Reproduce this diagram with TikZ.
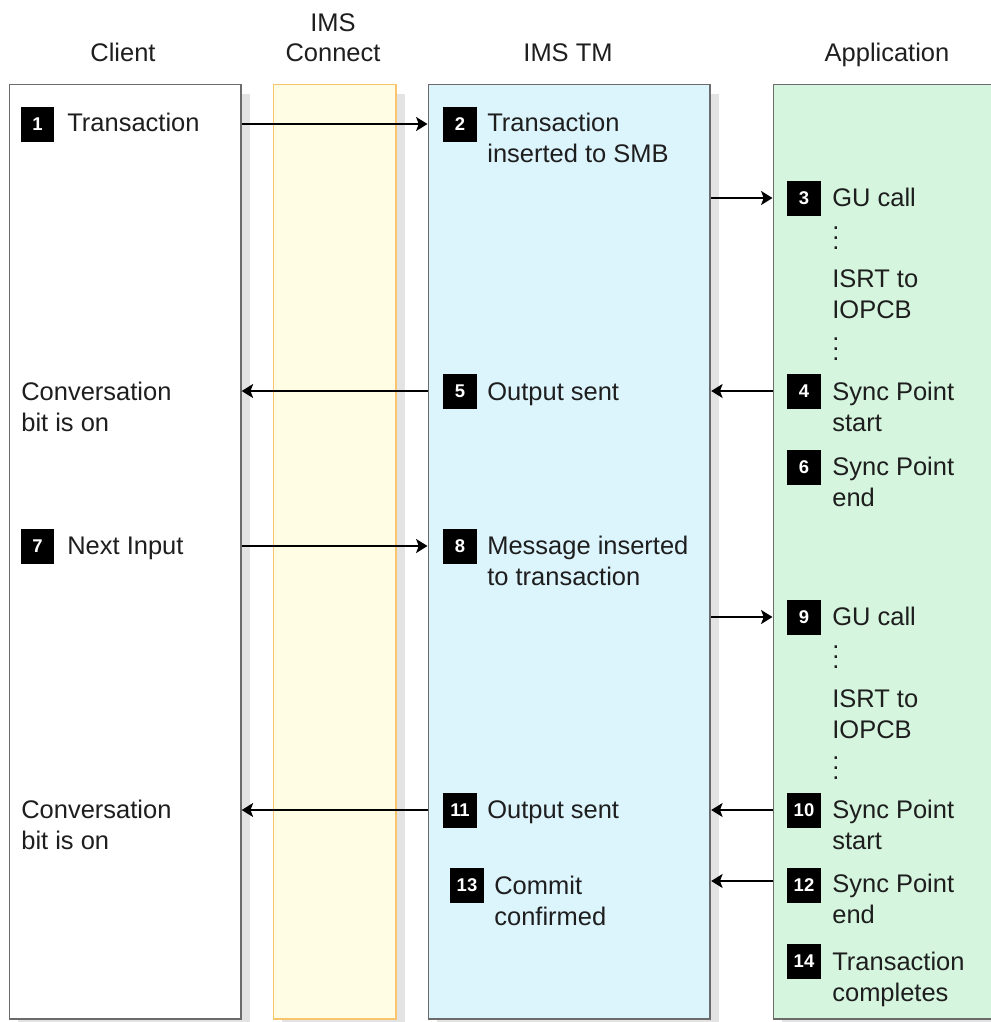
\documentclass[tikz,border=0pt]{standalone}
\usepackage{fontspec}
\setmainfont{Liberation Sans}
\usepackage{tikz}
\usetikzlibrary{arrows.meta,positioning,shadows}
\definecolor{IMSBorder}{HTML}{6B6B6B}
\definecolor{IMSText}{HTML}{1E1E1E}
\definecolor{IMSConnectFill}{HTML}{FFFDE4}
\definecolor{IMSConnectBorder}{HTML}{F8C46E}
\definecolor{IMSTMFill}{HTML}{DCF4FC}
\definecolor{IMSAppFill}{HTML}{D5F5DE}
\definecolor{IMSShadow}{HTML}{E3E3E3}
\tikzset{
    % Column box
    colbox/.style={
        draw=IMSBorder,
        fill=white,
        line width=1pt,
        anchor=north west,
        inner sep=0pt,
        minimum height=18.69cm,
        drop shadow={shadow xshift=0.18cm, shadow yshift=-0.2cm, fill=IMSShadow, opacity=1}
    },
    % Column title
    titlenode/.style={
        anchor=base,
        align=center,
        inner sep=0pt,
        text=IMSText,
        font=\fontsize{14.5}{17}\selectfont
    },
    % Step text (placed at the baseline of its last line)
    steptext/.style={
        anchor=base west,
        align=left,
        inner sep=0pt,
        text=IMSText,
        font=\fontsize{14.5}{17.5}\selectfont
    },
    % Step number badge
    badge/.style={
        fill=black,
        text=white,
        inner sep=0pt,
        minimum width=0.68cm,
        minimum height=0.7cm,
        font=\fontsize{10.5}{10.5}\selectfont\bfseries
    },
    % Vertical dots
    dotsnode/.style={
        align=center,
        inner sep=0pt,
        text=IMSText,
        font=\fontsize{14.5}{5.7}\selectfont
    },
    % Message arrow
    msgarrow/.style={
        -{Stealth[length=6.5pt, width=8pt, inset=1.5pt]},
        line width=0.9pt,
        draw=black
    }
}
\begin{document}
\begin{tikzpicture}[x=0.02cm, y=-0.02cm]
    \useasboundingbox (0,0) rectangle (991,1022);

    % Columns
    \node[colbox, minimum width=4.63cm] (client) at (8.5,83.5) {};
    \node[colbox, minimum width=2.45cm, draw=IMSConnectBorder, fill=IMSConnectFill] (connect) at (272.5,83.5) {};
    \node[colbox, minimum width=5.64cm, fill=IMSTMFill] (tm) at (427.5,83.5) {};
    \node[colbox, minimum width=4.75cm, fill=IMSAppFill] (app) at (772.5,83.5) {};

    % Titles
    \node[titlenode] (ttlclient) at (123,61) {Client};
    \node[titlenode] (ttlconnect) at (333,61) {IMS\\Connect};
    \node[titlenode] (ttltm) at (568,61) {IMS TM};
    \node[titlenode] (ttlapp) at (887,61) {Application};

    % Client
    \node[badge] (b1) at (37.5,124) {1};
    \node[steptext] (t1) at (67,131) {Transaction};
    \node[steptext] (conv1) at (21,431) {Conversation\\bit is on};
    \node[badge] (b7) at (37.5,546) {7};
    \node[steptext] (t7) at (67,554) {Next Input};
    \node[steptext] (conv2) at (21,849) {Conversation\\bit is on};

    % IMS TM
    \node[badge] (b2) at (460,124) {2};
    \node[steptext] (t2) at (487,162) {Transaction\\inserted to SMB};
    \node[badge] (b5) at (460,391) {5};
    \node[steptext] (t5) at (487,400) {Output sent};
    \node[badge] (b8) at (460,546) {8};
    \node[steptext] (t8) at (487,585) {Message inserted\\to transaction};
    \node[badge] (b11) at (460,810) {11};
    \node[steptext] (t11) at (487,818) {Output sent};
    \node[badge] (b13) at (467,885) {13};
    \node[steptext] (t13) at (494,925) {Commit\\confirmed};

    % Application
    \node[badge] (b3) at (804,198) {3};
    \node[steptext] (t3) at (832,206) {GU call};
    \node[dotsnode] (d3) at (836,238) {.\\.\\.};
    \node[steptext] (isrt1) at (832,318) {ISRT to\\IOPCB};
    \node[dotsnode] (d4) at (836,349) {.\\.\\.};
    \node[badge] (b4) at (804,391) {4};
    \node[steptext] (t4) at (832,431) {Sync Point\\start};
    \node[badge] (b6) at (804,467) {6};
    \node[steptext] (t6) at (832,506) {Sync Point\\end};
    \node[badge] (b9) at (804,617) {9};
    \node[steptext] (t9) at (832,625) {GU call};
    \node[dotsnode] (d9) at (836,657) {.\\.\\.};
    \node[steptext] (isrt2) at (832,738) {ISRT to\\IOPCB};
    \node[dotsnode] (d10) at (836,768) {.\\.\\.};
    \node[badge] (b10) at (804,810) {10};
    \node[steptext] (t10) at (832,849) {Sync Point\\start};
    \node[badge] (b12) at (804,885) {12};
    \node[steptext] (t12) at (832,923) {Sync Point\\end};
    \node[badge] (b14) at (804,961) {14};
    \node[steptext] (t14) at (832,1001) {Transaction\\completes};

    % Arrows
    \draw[msgarrow] (client.east |- b1) -- (tm.west |- b1);
    \draw[msgarrow] (tm.east |- b3) -- (app.west |- b3);
    \draw[msgarrow] (app.west |- b4) -- (tm.east |- b4);
    \draw[msgarrow] (tm.west |- b5) -- (client.east |- b5);
    \draw[msgarrow] (client.east |- b7) -- (tm.west |- b7);
    \draw[msgarrow] (tm.east |- b9) -- (app.west |- b9);
    \draw[msgarrow] (app.west |- b10) -- (tm.east |- b10);
    \draw[msgarrow] (tm.west |- b11) -- (client.east |- b11);
    \draw[msgarrow] ([yshift=0.08cm]app.west |- b12) -- ([yshift=0.08cm]tm.east |- b12);
\end{tikzpicture}
\end{document}
